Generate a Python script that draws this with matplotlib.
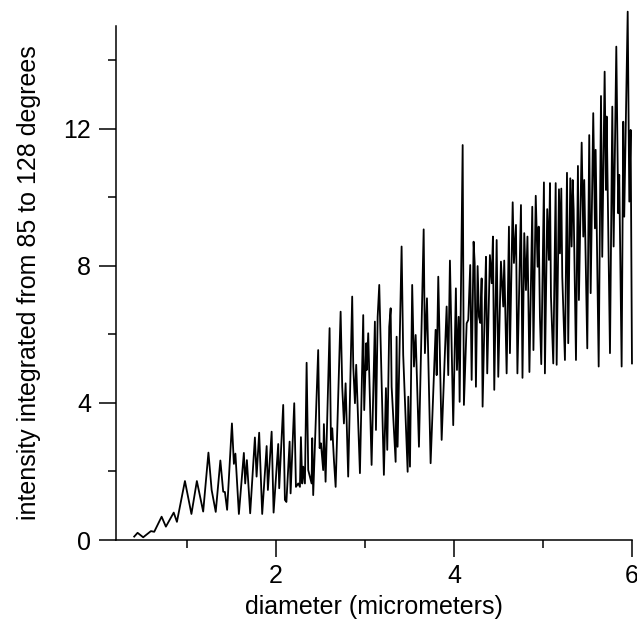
import matplotlib

matplotlib.use("Agg")
import matplotlib.pyplot as plt
from matplotlib.ticker import MultipleLocator

plt.rcParams["font.family"] = ["Liberation Sans", "DejaVu Sans"]

# values (peaks, troughs and shoulders of the trace)
diameter = [
    0.408, 0.446, 0.509, 0.596, 0.633, 0.716, 0.764, 0.852, 0.888, 0.978,
    1.051, 1.112, 1.183, 1.242, 1.278, 1.324, 1.376, 1.408, 1.427, 1.452,
    1.506, 1.528, 1.545, 1.584, 1.640, 1.655, 1.674, 1.711, 1.764, 1.783,
    1.812, 1.846, 1.896, 1.910, 1.952, 1.974, 2.026, 2.037, 2.082, 2.101,
    2.118, 2.154, 2.165, 2.206, 2.225, 2.251, 2.270, 2.281, 2.296, 2.307,
    2.326, 2.345, 2.363, 2.382, 2.401, 2.408, 2.419, 2.475, 2.491, 2.506,
    2.531, 2.539, 2.558, 2.603, 2.618, 2.633, 2.652, 2.671, 2.727, 2.745,
    2.764, 2.783, 2.812, 2.857, 2.869, 2.888, 2.902, 2.944, 2.981, 2.992,
    3.015, 3.021, 3.037, 3.075, 3.112, 3.124, 3.143, 3.161, 3.213, 3.236,
    3.251, 3.273, 3.289, 3.300, 3.345, 3.356, 3.367, 3.412, 3.430, 3.480,
    3.487, 3.506, 3.531, 3.551, 3.570, 3.607, 3.660, 3.674, 3.697, 3.738,
    3.794, 3.806, 3.824, 3.862, 3.918, 3.936, 3.955, 3.992, 4.022, 4.034,
    4.053, 4.064, 4.098, 4.112, 4.143, 4.161, 4.183, 4.199, 4.221, 4.233,
    4.247, 4.266, 4.281, 4.296, 4.311, 4.322, 4.348, 4.360, 4.374, 4.404,
    4.424, 4.438, 4.453, 4.480, 4.498, 4.528, 4.554, 4.565, 4.592, 4.618,
    4.629, 4.660, 4.674, 4.697, 4.713, 4.753, 4.770, 4.790, 4.809, 4.826,
    4.848, 4.880, 4.893, 4.919, 4.940, 4.952, 4.966, 4.981, 5.011, 5.022,
    5.048, 5.067, 5.079, 5.090, 5.116, 5.143, 5.154, 5.180, 5.191, 5.206,
    5.217, 5.247, 5.270, 5.284, 5.307, 5.322, 5.334, 5.345, 5.371, 5.393,
    5.404, 5.435, 5.453, 5.464, 5.498, 5.520, 5.536, 5.565, 5.584, 5.592,
    5.626, 5.652, 5.666, 5.693, 5.708, 5.716, 5.753, 5.779, 5.794, 5.824,
    5.846, 5.857, 5.884, 5.902, 5.913, 5.952, 5.970, 5.985, 6.000,
]
intensity = [
    0.10, 0.21, 0.08, 0.26, 0.24, 0.68, 0.39, 0.80, 0.53, 1.72,
    0.76, 1.72, 0.83, 2.55, 1.46, 0.82, 2.32, 1.41, 1.40, 0.88,
    3.40, 2.22, 2.52, 0.76, 2.54, 1.65, 2.33, 0.78, 2.99, 1.85,
    3.13, 0.76, 2.74, 1.46, 3.16, 0.80, 2.80, 1.51, 3.94, 1.17,
    1.11, 2.87, 1.36, 3.99, 1.55, 1.65, 1.55, 3.00, 1.65, 2.14,
    1.65, 5.17, 2.04, 1.85, 1.65, 2.97, 1.31, 5.54, 2.68, 2.82,
    2.04, 3.38, 1.70, 6.18, 2.92, 3.26, 2.33, 1.55, 6.66, 4.47,
    3.40, 4.57, 1.85, 7.10, 5.06, 3.99, 5.11, 1.95, 6.56, 3.79,
    5.74, 4.96, 6.03, 2.19, 6.37, 3.21, 6.51, 7.44, 1.90, 4.43,
    2.63, 6.22, 6.76, 4.47, 2.28, 5.93, 2.72, 8.56, 5.40, 1.99,
    4.18, 2.14, 7.44, 5.06, 5.98, 2.72, 9.06, 5.45, 7.05, 2.24,
    6.13, 4.81, 7.68, 2.92, 6.81, 4.81, 8.15, 3.35, 7.34, 4.96,
    6.51, 4.03, 11.52, 3.94, 6.32, 6.42, 8.02, 4.67, 8.70, 8.08,
    4.47, 7.99, 6.51, 6.33, 7.63, 3.89, 7.00, 8.26, 4.86, 8.31,
    7.49, 8.85, 4.38, 8.75, 4.76, 8.12, 6.81, 8.15, 4.86, 9.14,
    5.45, 9.85, 8.08, 9.19, 4.86, 9.77, 4.73, 8.95, 7.29, 8.85,
    4.90, 9.72, 5.54, 10.04, 7.97, 9.14, 6.51, 5.13, 10.43, 4.86,
    9.65, 8.17, 10.41, 7.10, 5.15, 10.41, 5.11, 10.23, 8.36, 10.25,
    7.68, 5.25, 10.71, 5.74, 10.55, 8.56, 10.50, 9.63, 5.25, 10.91,
    7.00, 11.59, 8.85, 10.50, 5.59, 11.81, 7.20, 12.45, 9.09, 11.38,
    5.06, 12.95, 8.26, 13.66, 10.21, 12.35, 5.45, 12.64, 8.56, 14.39,
    9.53, 10.65, 5.06, 12.20, 9.43, 15.41, 9.87, 11.96, 5.15,
]

fig = plt.figure(figsize=(6.37, 6.21), dpi=100)
ax = fig.add_axes([0.1816, 0.1304, 0.8105, 0.8282])

ax.plot(diameter, intensity, color="black", linewidth=1.3,
        solid_joinstyle="round", clip_on=False)

ax.set_xlim(0.2, 6.0)
ax.set_ylim(0, 15.0)
ax.xaxis.set_major_locator(MultipleLocator(2))
ax.xaxis.set_minor_locator(MultipleLocator(1))
ax.yaxis.set_major_locator(MultipleLocator(4))
ax.yaxis.set_minor_locator(MultipleLocator(2))

for side in ["top", "right"]:
    ax.spines[side].set_visible(False)
for side in ["left", "bottom"]:
    ax.spines[side].set_linewidth(1.1)

ax.tick_params(which="major", direction="out", length=12.5, width=1.1, labelsize=18, pad=5)
ax.tick_params(which="minor", direction="out", length=5.8, width=1.1)

ax.set_xlabel("diameter (micrometers)", fontsize=18, labelpad=5)
ax.set_ylabel("intensity integrated from 85 to 128 degrees", fontsize=18, labelpad=16)

fig.savefig("out.png", dpi=100)
plt.close(fig)
